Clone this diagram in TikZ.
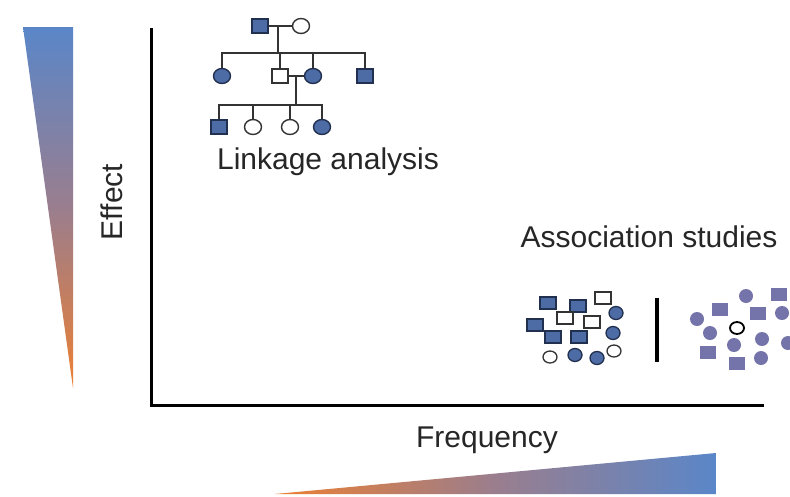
\documentclass[tikz,border=0pt]{standalone}
\usepackage{fontspec}
\setmainfont{Liberation Sans}
\usetikzlibrary{shadings}
\definecolor{gblue}{HTML}{5A86C8}
\definecolor{gorange}{HTML}{EC7F32}
\definecolor{gmid}{HTML}{9A7E8E}
\definecolor{pfill}{HTML}{4D6CA6}
\definecolor{pdraw}{HTML}{22304F}
\definecolor{afill}{HTML}{7474AA}
\tikzset{
  lbl/.style={font=\fontsize{30}{35}\selectfont, text=black!85, inner sep=0pt},
  pm/.style={draw=pdraw, fill=pfill, line width=1.4pt, minimum width=16pt, minimum height=14pt, inner sep=0pt},
  po/.style={draw=black!80, fill=white, line width=1.4pt, minimum width=16pt, minimum height=14pt, inner sep=0pt},
  pf/.style={ellipse, draw=pdraw, fill=pfill, line width=1.4pt, minimum width=17pt, minimum height=15pt, inner sep=0pt},
  pc/.style={ellipse, draw=black!80, fill=white, line width=1.4pt, minimum width=17pt, minimum height=15pt, inner sep=0pt},
  sm/.style={draw=pdraw, fill=pfill, line width=1.3pt, minimum width=16pt, minimum height=12pt, inner sep=0pt},
  so/.style={draw=black!80, fill=white, line width=1.3pt, minimum width=16pt, minimum height=12pt, inner sep=0pt},
  sf/.style={ellipse, draw=pdraw, fill=pfill, line width=1.3pt, minimum width=14pt, minimum height=13pt, inner sep=0pt},
  sc/.style={ellipse, draw=black!80, fill=white, line width=1.3pt, minimum width=14pt, minimum height=12pt, inner sep=0pt},
  am/.style={fill=afill, minimum width=16pt, minimum height=13pt, inner sep=0pt},
  af/.style={ellipse, fill=afill, minimum width=14pt, minimum height=14pt, inner sep=0pt},
  ac/.style={ellipse, draw=black, fill=white, line width=1.8pt, minimum width=14pt, minimum height=12pt, inner sep=0pt},
  ped/.style={draw=black!80, line width=1.6pt},
  axis/.style={draw=black, line width=3pt}
}
\usetikzlibrary{shapes.geometric}
\begin{document}
\begin{tikzpicture}[x=1pt,y=-1pt]
\useasboundingbox (0,0) rectangle (790,496);
\fill[white] (0,0) rectangle (790,496);
% gradient triangles
\begin{scope}
\clip (23,27) -- (73,27) -- (73,388) -- cycle;
\shade[top color=gblue, bottom color=gorange, middle color=gmid] (23,27) rectangle (73,388);
\end{scope}
\begin{scope}
\clip (275,494) -- (716,494) -- (716,453) -- cycle;
\shade[left color=gorange, right color=gblue, middle color=gmid] (275,453) rectangle (716,494);
\end{scope}
% axes
\coordinate (top) at (151,28);
\coordinate (corner) at (151,405);
\coordinate (right) at (764,405);
\draw[axis, line join=miter] (top) -- (corner) -- (right);
% labels
\node[lbl, rotate=90] (effect) at (112,202) {Effect};
\node[lbl] (freq) at (487,440) {Frequency};
\node[lbl] (link) at (328,162) {Linkage analysis};
\node[lbl] (assoc) at (649,237) {Association studies};
% pedigree
\node[pm] (g1m) at (260,26) {};
\node[pc] (g1f) at (301,26) {};
\node[pf] (c1) at (222,76) {};
\node[po] (c2) at (280,76) {};
\node[pf] (c3) at (313,76) {};
\node[pm] (c4) at (365,76) {};
\node[pm] (d1) at (219,127) {};
\node[pc] (d2) at (253,127) {};
\node[pc] (d3) at (290,127) {};
\node[pf] (d4) at (322,127) {};
\draw[ped] (g1m.east) -- (g1f.west);
\draw[ped] (278,26) -- (278,53);
\draw[ped] (c1.north) |- (c4.north |- 0,53) -- (c4.north);
\draw[ped] (c2.north) -- (c2.north |- 0,53);
\draw[ped] (c3.north) -- (c3.north |- 0,53);
\draw[ped] (c2.east) -- (c3.west);
\draw[ped] (296,76) -- (296,105);
\draw[ped] (d1.north) |- (d4.north |- 0,105) -- (d4.north);
\draw[ped] (d2.north) -- (d2.north |- 0,105);
\draw[ped] (d3.north) -- (d3.north |- 0,105);
% association left group
\node[sm] (s1) at (548,303) {};
\node[sm] (s2) at (578,306) {};
\node[sm] (s3) at (535,325) {};
\node[sm] (s4) at (553,337) {};
\node[sm] (s5) at (579,337) {};
\node[so] (s6) at (603,298) {};
\node[so] (s7) at (565,318) {};
\node[so] (s8) at (592,322) {};
\node[sf] (s9) at (616,313) {};
\node[sf] (s10) at (613,333) {};
\node[sf] (s11) at (575,355) {};
\node[sf] (s12) at (597,358) {};
\node[sc] (s13) at (550,357) {};
\node[sc] (s14) at (614,351) {};
% separator
\coordinate (bt) at (657,298);
\coordinate (bb) at (657,362);
\draw[draw=black, line width=3.5pt] (bt) -- (bb);
% association right group
\node[af] (a1) at (746,296) {};
\node[af] (a2) at (697,319) {};
\node[af] (a3) at (710,333) {};
\node[af] (a4) at (782,313) {};
\node[af] (a5) at (734,345) {};
\node[af] (a6) at (762,339) {};
\node[af] (a7) at (788,343) {};
\node[af] (a8) at (761,358) {};
\node[ac] (a9) at (737,328) {};
\node[am] (a10) at (779,294) {};
\node[am] (a11) at (720,309) {};
\node[am] (a12) at (758,313) {};
\node[am] (a13) at (708,352) {};
\node[am] (a14) at (737,363) {};
\end{tikzpicture}
\end{document}
